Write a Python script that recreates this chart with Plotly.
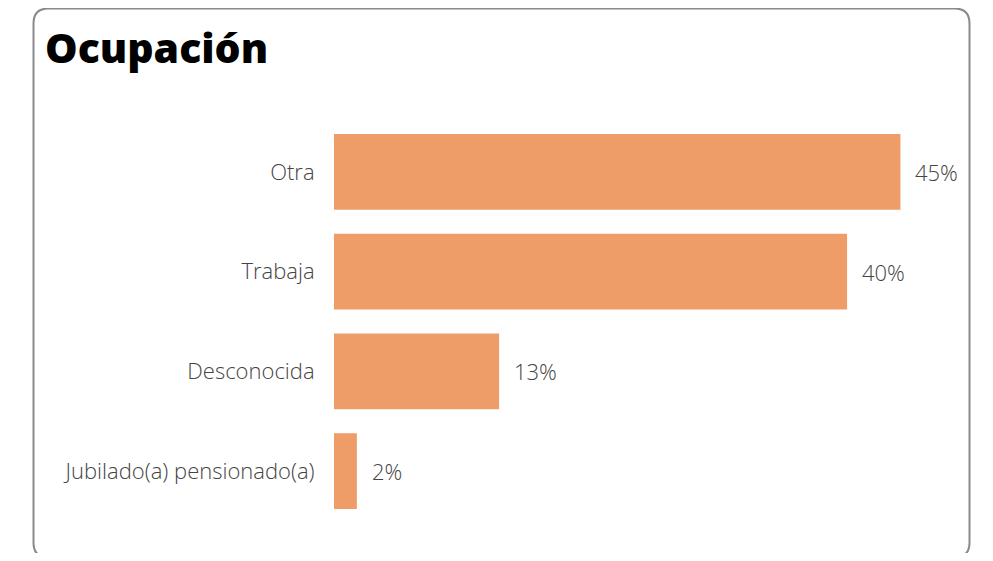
import plotly.graph_objects as go

categories = ["Otra", "Trabaja", "Desconocida", "Jubilado(a) pensionado(a)"]
values = [44.6, 40.4, 13.0, 1.8]
labels = ["45%", "40%", "13%", "2%"]
title_text = "Ocupación"

OFF = 8  # page body offset
W, H = 993 - 2 * OFF, 561 - 2 * OFF
ML, MR, MT, MB = 334 - OFF, 24, 122 - OFF, 32
PW, PH = W - ML - MR, H - MT - MB

def px(x):
    return (x - OFF - ML) / PW

def py(y):
    return (H - MB - (y - OFF)) / PH

bar_color = "#EF9D68"
font_family = "'Open Sans', Lato, sans-serif"

fig = go.Figure(go.Bar(
    x=values, y=categories, orientation="h",
    marker=dict(color=bar_color, line=dict(width=0)),
    hoverinfo="skip",
))

for c, v, t in zip(categories, values, labels):
    fig.add_annotation(x=v, y=c, text=t, xref="x", yref="y", showarrow=False,
                       xanchor="left", xshift=13,
                       font=dict(family=font_family, size=22, color="#444444", weight=300))

fig.add_annotation(x=px(43), y=py(47), xref="paper", yref="paper", text=title_text,
                   showarrow=False, xanchor="left", yanchor="middle",
                   font=dict(family=font_family, size=41, color="#000000", weight=800))

x0, x1, y0, y1 = px(33.5), px(969.5), py(557.5), py(8.5)
rx, ry = 15 / PW, 15 / PH
path = (f"M {x0+rx},{y1} L {x1-rx},{y1} Q {x1},{y1} {x1},{y1-ry} "
        f"L {x1},{y0+ry} Q {x1},{y0} {x1-rx},{y0} L {x0+rx},{y0} "
        f"Q {x0},{y0} {x0},{y0+ry} L {x0},{y1-ry} Q {x0},{y1} {x0+rx},{y1} Z")
fig.add_shape(type="path", path=path, xref="paper", yref="paper",
              line=dict(color="#8a8a8a", width=2), fillcolor="rgba(0,0,0,0)", layer="below")

fig.update_layout(
    width=W, height=H,
    margin=dict(l=ML, r=MR, t=MT, b=MB, pad=0),
    paper_bgcolor="white", plot_bgcolor="white",
    bargap=0.24, showlegend=False,
    xaxis=dict(range=[0, PW / 12.7], visible=False, fixedrange=True),
    yaxis=dict(autorange="reversed", showgrid=False, zeroline=False, showline=False,
               ticks="outside", ticklen=14, tickcolor="rgba(0,0,0,0)",
               tickfont=dict(family=font_family, size=22, color="#444444", weight=300),
               fixedrange=True),
)

fig.write_html("out.html")
